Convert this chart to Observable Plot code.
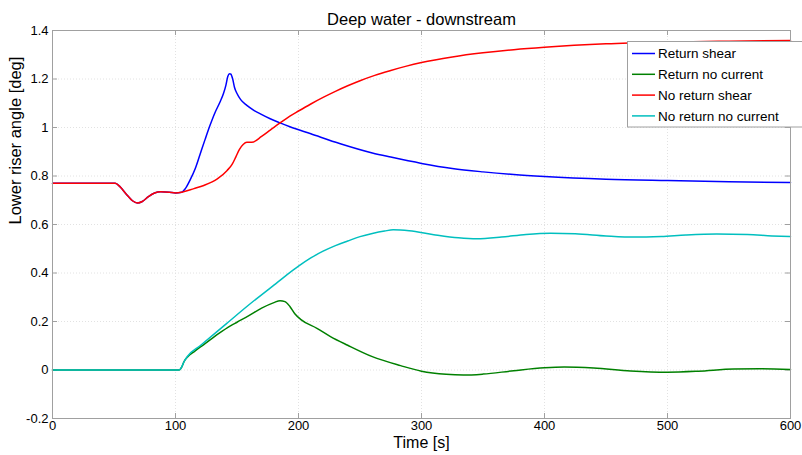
<!DOCTYPE html>
<html><head><meta charset="utf-8">
<script src="https://cdn.jsdelivr.net/npm/d3@7"></script>
<script src="https://cdn.jsdelivr.net/npm/@observablehq/plot@0.6"></script>
<style>body{margin:0;background:#fff;} #chart{width:802px;height:455px;overflow:hidden;}</style>
</head><body><div id="chart"></div>
<script>
const titleText = "Deep water - downstream";
const xLabel = "Time [s]";
const yLabel = "Lower riser angle [deg]";
const xTicks = [0, 100, 200, 300, 400, 500, 600];
const yTicks = [-0.2, 0, 0.2, 0.4, 0.6, 0.8, 1, 1.2, 1.4];
const seriesNames = ["Return shear", "Return no current", "No return shear", "No return no current"];
const seriesColors = ["#0000ff", "#008000", "#ff0000", "#00bfbf"];

const returnShearT = [0, 51, 55, 60, 65, 69, 73, 78, 83, 88, 95, 100, 105, 108, 112, 116, 120, 124, 128, 132, 136, 139, 141, 142.5, 144, 145, 146.5, 148, 150, 153, 158, 164, 169, 177, 185, 193, 210, 234, 260, 275, 300, 325, 350, 375, 400, 450, 500, 550, 600];
const returnShearV = [0.77, 0.77, 0.755, 0.725, 0.698, 0.689, 0.695, 0.715, 0.73, 0.735, 0.733, 0.73, 0.733, 0.748, 0.785, 0.83, 0.89, 0.95, 1.008, 1.06, 1.103, 1.14, 1.175, 1.21, 1.222, 1.22, 1.2, 1.165, 1.14, 1.115, 1.091, 1.07, 1.056, 1.036, 1.019, 1.003, 0.974, 0.933, 0.895, 0.878, 0.852, 0.831, 0.817, 0.806, 0.798, 0.787, 0.781, 0.776, 0.773];

const returnNoCurrentT = [0, 103, 105, 107, 110, 115, 123, 135, 145, 150, 160, 170, 180, 185, 189, 193, 197, 202, 215, 226, 240, 260, 283, 300, 320, 334, 350, 375, 400, 416, 440, 470, 500, 525, 554, 575, 600];
const returnNoCurrentV = [0, 0, 0.012, 0.035, 0.055, 0.075, 0.105, 0.15, 0.183, 0.197, 0.225, 0.255, 0.278, 0.286, 0.282, 0.262, 0.232, 0.208, 0.172, 0.138, 0.102, 0.055, 0.018, -0.005, -0.018, -0.021, -0.017, -0.003, 0.009, 0.012, 0.008, -0.004, -0.009, -0.005, 0.004, 0.005, 0.002];

const noReturnShearT = [0, 51, 55, 60, 65, 69, 73, 78, 83, 88, 95, 100, 105, 115, 123, 134, 142, 146, 149, 152, 155, 158, 162, 170, 177, 185, 193, 200, 210, 220, 230, 240, 250, 262, 275, 287, 300, 325, 350, 375, 400, 450, 500, 550, 600];
const noReturnShearV = [0.77, 0.77, 0.755, 0.725, 0.698, 0.689, 0.695, 0.715, 0.73, 0.735, 0.733, 0.73, 0.733, 0.748, 0.761, 0.788, 0.823, 0.848, 0.878, 0.91, 0.93, 0.939, 0.939, 0.963, 0.989, 1.019, 1.047, 1.068, 1.097, 1.124, 1.149, 1.172, 1.193, 1.215, 1.235, 1.252, 1.268, 1.291, 1.308, 1.321, 1.331, 1.345, 1.352, 1.356, 1.359];

const noReturnNoCurrentT = [0, 103, 105, 107, 110, 120, 140, 160, 180, 190, 200, 210, 220, 230, 240, 250, 260, 270, 277, 290, 310, 330, 345, 365, 385, 405, 425, 450, 473, 495, 515, 540, 565, 585, 600];
const noReturnNoCurrentV = [0, 0, 0.012, 0.035, 0.058, 0.1, 0.185, 0.27, 0.35, 0.39, 0.428, 0.462, 0.49, 0.513, 0.532, 0.55, 0.563, 0.573, 0.578, 0.574, 0.558, 0.545, 0.541, 0.548, 0.559, 0.564, 0.562, 0.553, 0.548, 0.551, 0.557, 0.561, 0.559, 0.553, 0.55];

const seriesT = [returnShearT, returnNoCurrentT, noReturnShearT, noReturnNoCurrentT];
const seriesV = [returnShearV, returnNoCurrentV, noReturnShearV, noReturnNoCurrentV];
const rows = [];
seriesNames.forEach((name, i) => seriesT[i].forEach((t, j) => rows.push({series: name, t, v: seriesV[i][j]})));

const W = 802, H = 455, mL = 52, mR = 12, mT = 30, mB = 37;
const innerW = W - mL - mR, innerH = H - mT - mB;
const axisGray = "#a0a0a0";
const font = "'Liberation Sans', Arial, Helvetica, sans-serif";

const svg = Plot.plot({
  width: W, height: H,
  marginLeft: mL, marginRight: mR, marginTop: mT, marginBottom: mB,
  style: {fontFamily: font, fontSize: "13px", background: "#fff", color: "#000", overflow: "hidden"},
  x: {domain: [0, 600], ticks: xTicks},
  y: {domain: [-0.2, 1.4], ticks: yTicks},
  color: {domain: seriesNames, range: seriesColors},
  marks: [
    Plot.gridX(xTicks.slice(1, -1), {stroke: "#e2e2e2", strokeOpacity: 1, strokeDasharray: "1,2"}),
    Plot.gridY(yTicks.slice(1, -1), {stroke: "#e2e2e2", strokeOpacity: 1, strokeDasharray: "1,2"}),
    Plot.tickX(xTicks, {x: d => d, stroke: axisGray, insetTop: innerH - 5}),
    Plot.tickX(xTicks, {x: d => d, stroke: axisGray, insetBottom: innerH - 5}),
    Plot.tickY(yTicks, {y: d => d, stroke: axisGray, insetRight: innerW - 5}),
    Plot.tickY(yTicks, {y: d => d, stroke: axisGray, insetLeft: innerW - 5}),
    Plot.axisX(xTicks, {tickSize: 0, tickPadding: 2, label: null, tickFormat: d => String(d), fontSize: 13}),
    Plot.axisY(yTicks, {tickSize: 0, tickPadding: 4, label: null, tickFormat: d => String(d), fontSize: 13}),
    Plot.lineY(rows, {x: "t", y: "v", z: "series", stroke: "series", strokeWidth: 1.5, curve: "monotone-x"}),
    Plot.frame({stroke: axisGray}),
    Plot.text([titleText], {text: d => d, frameAnchor: "top", dy: -17, fontSize: 16.5, fill: "#000"}),
    Plot.text([xLabel], {text: d => d, frameAnchor: "bottom", dy: 29, fontSize: 16, fill: "#000"}),
    Plot.text([yLabel], {text: d => d, frameAnchor: "left", dx: -37, rotate: -90, fontSize: 16.5, fill: "#000"})
  ]
});

// legend box (inside top-right, extends to the image edge)
const lg = d3.select(svg).append("g").attr("font-family", font).attr("font-size", 13.5).attr("text-anchor", "start");
lg.append("rect").attr("x", 627.5).attr("y", 41.5).attr("width", 190).attr("height", 85.5)
  .attr("fill", "#fff").attr("stroke", axisGray);
seriesNames.forEach((name, i) => {
  const cy = 53.5 + i * 20.8;
  lg.append("line").attr("x1", 632).attr("x2", 655).attr("y1", cy).attr("y2", cy)
    .attr("stroke", seriesColors[i]).attr("stroke-width", 1.5);
  lg.append("text").attr("x", 658).attr("y", cy).attr("dy", "0.35em").attr("text-anchor", "start").attr("fill", "#000").text(name);
});

document.getElementById("chart").appendChild(svg);
</script>
</body></html>
